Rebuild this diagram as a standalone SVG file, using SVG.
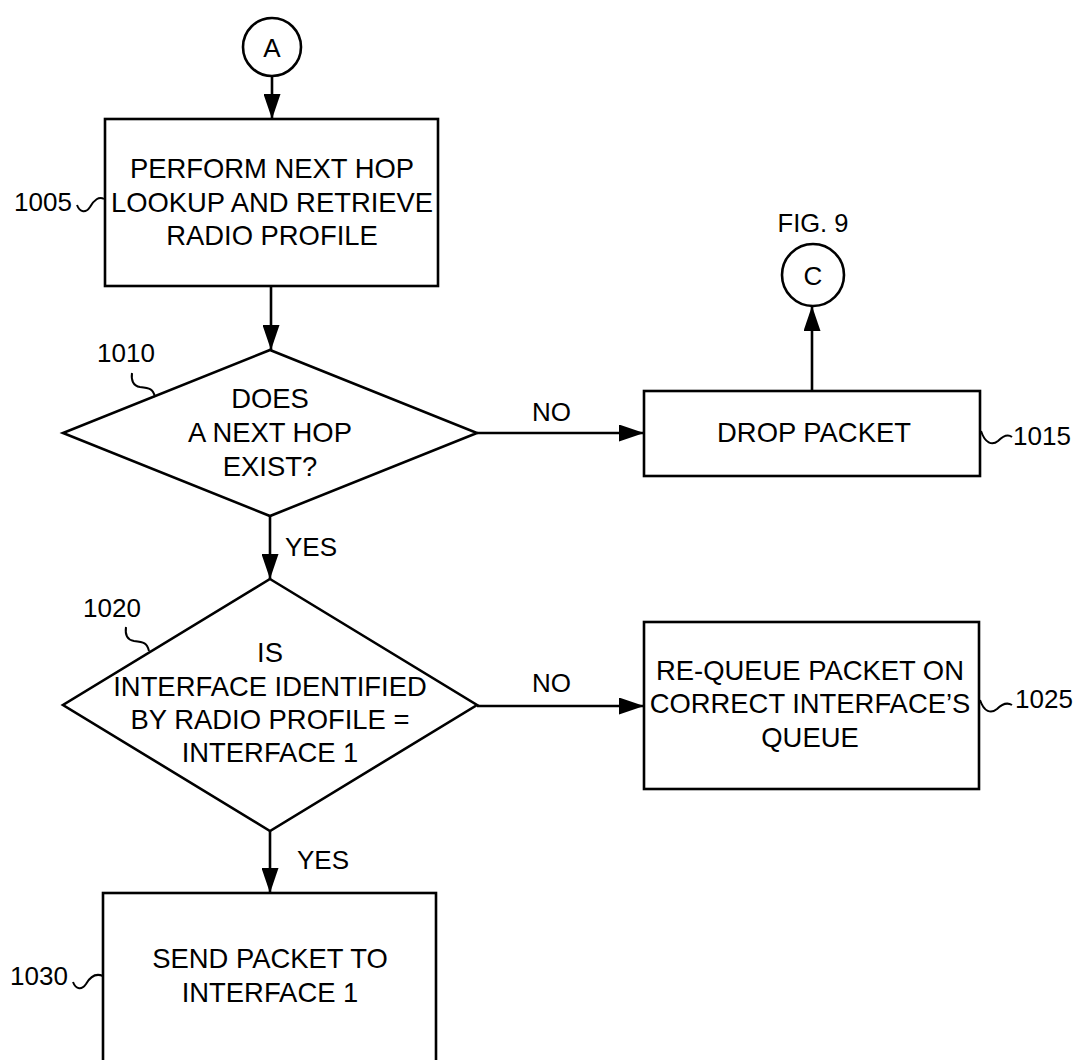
<svg xmlns="http://www.w3.org/2000/svg" width="1080" height="1060" viewBox="0 0 1080 1060">
  <style>
    .shape { fill: #fff; stroke: #000; stroke-width: 2.6; }
    .wire { fill: none; stroke: #000; stroke-width: 2.6; }
    .lead { fill: none; stroke: #000; stroke-width: 2; }
    text { font-family: "Liberation Sans", Arial, sans-serif; fill: #000; }
    .t { font-size: 27.4px; text-anchor: middle; }
    .lbl { font-size: 26px; }
    .yn { font-size: 26px; }
  </style>
  <defs>
    <marker id="arrow" viewBox="0 0 25 17" refX="25" refY="8.5" markerWidth="25" markerHeight="17" markerUnits="userSpaceOnUse" orient="auto">
      <path d="M0,0 L25,8.5 L0,17 Z" fill="#000"/>
    </marker>
  </defs>

  <rect width="1080" height="1060" fill="#fff"/>

  <!-- connectors -->
  <g id="connectors">
    <line class="wire" x1="272" y1="76" x2="272" y2="119" marker-end="url(#arrow)"/>
    <line class="wire" x1="271" y1="286" x2="271" y2="350" marker-end="url(#arrow)"/>
    <line class="wire" x1="477" y1="433" x2="644" y2="433" marker-end="url(#arrow)"/>
    <line class="wire" x1="812" y1="391" x2="812" y2="306" marker-end="url(#arrow)"/>
    <line class="wire" x1="270" y1="516" x2="270" y2="579" marker-end="url(#arrow)"/>
    <line class="wire" x1="477" y1="706" x2="644" y2="706" marker-end="url(#arrow)"/>
    <line class="wire" x1="270" y1="831" x2="270" y2="893" marker-end="url(#arrow)"/>
    <text class="yn" x="532" y="421">NO</text>
    <text class="yn" x="285" y="556">YES</text>
    <text class="yn" x="532" y="692">NO</text>
    <text class="yn" x="297" y="869">YES</text>
  </g>

  <!-- connector A -->
  <g id="conn-a">
    <circle class="shape" cx="272" cy="47" r="29"/>
    <text class="t" x="272" y="56.5" style="font-size:26px">A</text>
  </g>

  <!-- step 1005 -->
  <g id="step-1005">
    <rect class="shape" x="105" y="119" width="333" height="167"/>
    <text class="t" x="272" y="178">PERFORM NEXT HOP</text>
    <text class="t" x="272" y="212">LOOKUP AND RETRIEVE</text>
    <text class="t" x="272" y="245">RADIO PROFILE</text>
    <path class="lead" d="M77,205 C80,213 86,213 90,207 C94,200 99,196 104,199"/>
    <text class="lbl" x="14" y="211">1005</text>
  </g>

  <!-- decision 1010 -->
  <g id="decision-1010">
    <polygon class="shape" points="270,350 477,433 270,516 63,433"/>
    <text class="t" x="270" y="408">DOES</text>
    <text class="t" x="270" y="442">A NEXT HOP</text>
    <text class="t" x="270" y="476">EXIST?</text>
    <path class="lead" d="M132,373 C131,380 133,386 140,387 C150,388 153,389 155,397"/>
    <text class="lbl" x="97" y="362">1010</text>
  </g>

  <!-- step 1015 -->
  <g id="step-1015">
    <rect class="shape" x="644" y="391" width="336" height="85"/>
    <text class="t" x="814" y="442">DROP PACKET</text>
    <path class="lead" d="M981,431 C985,443 992,446 998,441 C1003,436 1008,434 1012,437"/>
    <text class="lbl" x="1013" y="445">1015</text>
  </g>

  <!-- connector C -->
  <g id="conn-c">
    <text x="813" y="232" style="font-size:25.5px;text-anchor:middle">FIG. 9</text>
    <circle class="shape" cx="813" cy="275" r="31"/>
    <text class="t" x="813" y="284.5" style="font-size:26px">C</text>
  </g>

  <!-- decision 1020 -->
  <g id="decision-1020">
    <polygon class="shape" points="270,579 477,705 270,831 63,705"/>
    <text class="t" x="270" y="662">IS</text>
    <text class="t" x="270" y="696">INTERFACE IDENTIFIED</text>
    <text class="t" x="270" y="729">BY RADIO PROFILE =</text>
    <text class="t" x="270" y="762">INTERFACE 1</text>
    <path class="lead" d="M126,627 C125,634 127,640 134,641 C144,642 147,643 149,651"/>
    <text class="lbl" x="83" y="617">1020</text>
  </g>

  <!-- step 1025 -->
  <g id="step-1025">
    <rect class="shape" x="644" y="622" width="335" height="167"/>
    <text class="t" x="810" y="680">RE-QUEUE PACKET ON</text>
    <text class="t" x="810" y="713">CORRECT INTERFACE’S</text>
    <text class="t" x="810" y="747">QUEUE</text>
    <path class="lead" d="M980,700 C984,712 991,714 997,709 C1002,704 1007,702 1012,705"/>
    <text class="lbl" x="1015" y="708">1025</text>
  </g>

  <!-- step 1030 -->
  <g id="step-1030">
    <rect class="shape" x="103" y="893" width="333" height="200"/>
    <text class="t" x="270" y="968">SEND PACKET TO</text>
    <text class="t" x="270" y="1002">INTERFACE 1</text>
    <path class="lead" d="M73,982 C76,990 82,990 86,984 C90,977 96,973 103,976"/>
    <text class="lbl" x="10" y="985">1030</text>
  </g>
</svg>
